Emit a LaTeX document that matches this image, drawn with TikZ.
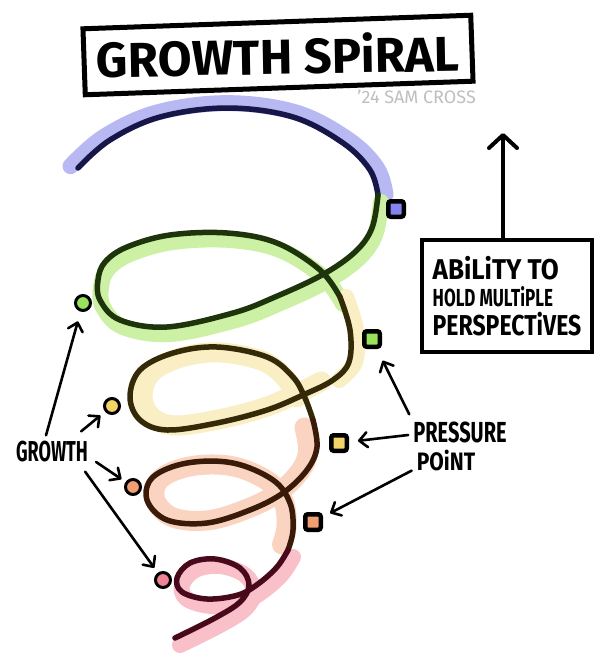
\documentclass[tikz,border=0pt]{standalone}
\usepackage{fontspec}
\setmainfont{Fira Sans}
\usepackage{graphicx}
\usetikzlibrary{arrows.meta}
\definecolor{InkNavy}{RGB}{22,22,72}
\definecolor{InkGreen}{RGB}{30,52,10}
\definecolor{InkOlive}{RGB}{52,42,8}
\definecolor{InkBrown}{RGB}{58,26,8}
\definecolor{InkMaroon}{RGB}{72,10,26}
\definecolor{GlowLavender}{RGB}{184,184,242}
\definecolor{GlowGreen}{RGB}{204,240,164}
\definecolor{GlowYellow}{RGB}{250,238,196}
\definecolor{GlowPeach}{RGB}{250,212,192}
\definecolor{GlowPink}{RGB}{250,192,202}
\definecolor{MarkBlue}{RGB}{132,132,240}
\definecolor{MarkGreen}{RGB}{152,226,92}
\definecolor{MarkYellow}{RGB}{240,212,104}
\definecolor{MarkOrange}{RGB}{240,160,112}
\definecolor{MarkPink}{RGB}{240,132,150}
\newcommand{\navyarc}{plot[smooth,tension=0.6] coordinates {(78,168) (110,140) (160,117) (227,108) (293,117) (343,143) (370,170) (378,195)}}
\newcommand{\greenloop}{plot[smooth,tension=0.6] coordinates {(378,195) (372,228) (355,252) (322,275) (275,297) (233,313) (167,327) (120,320) (100,300) (98,280) (105,262) (127,247) (170,235) (227,233) (277,243) (320,270) (340,297)}}
\newcommand{\yellowside}{plot[smooth,tension=0.6] coordinates {(340,297) (350,330) (349,362) (333,380)}}
\newcommand{\yellowloop}{plot[smooth,tension=0.6] coordinates {(340,297) (350,330) (349,362) (333,380) (303,395) (267,410) (217,423) (167,430) (140,420) (130,397) (140,370) (173,353) (217,347) (267,357) (293,377) (305,398) (313,420)}}
\newcommand{\yellowring}{plot[smooth,tension=0.6] coordinates {(333,380) (303,395) (267,410) (217,423) (167,430) (140,420) (130,397) (140,370) (173,353) (217,347) (267,357) (293,377) (305,398)}}
\newcommand{\orangeloop}{plot[smooth,tension=0.6] coordinates {(313,420) (317,447) (307,470) (283,493) (250,510) (207,523) (167,520) (147,500) (153,477) (187,463) (233,463) (273,480) (290,503) (293,530) (288,550)}}
\newcommand{\redloop}{plot[smooth,tension=0.6] coordinates {(288,550) (277,567) (258,584) (238,595) (207,599) (182,592) (177,578) (190,563) (215,559) (240,568) (249,585) (240,602) (215,618) (175,638)}}
\tikzset{
  hand/.style={inner sep=0pt,text=black},
  titletext/.style={inner sep=0pt,rotate=1,font=\fontsize{49}{52}\selectfont\bfseries},
  titleframe/.style={draw,line width=5pt},
  abilitybox/.style={draw,line width=4pt,minimum width=170pt,minimum height=112pt,align=left,inner sep=0pt,font=\bfseries},
  ptsq/.style={draw,line width=4.5pt,rounded corners=2.5pt,minimum size=15.5pt,inner sep=0pt},
  gdot/.style={circle,draw,line width=3pt,minimum size=15pt,inner sep=0pt},
  arr/.style={line width=2.6pt,line cap=round,-{Straight Barb[length=8pt,width=15pt,round]}},
  bigarr/.style={line width=4pt,line cap=round,-{Straight Barb[length=13pt,width=28pt,round]}},
  glow/.style={line width=16pt,line cap=round,line join=round},
  ink/.style={line width=5.5pt,line cap=round,line join=round},
}
\begin{document}
\begin{tikzpicture}[x=1pt,y=-1pt]
  \path[fill=white] (0,0) rectangle (603,664);
  \useasboundingbox (0,0) rectangle (603,664);

  \draw[glow,GlowLavender,scale around={1.05:(228,205)}] \navyarc;
  \draw[glow,GlowGreen,shift={(3,7)}] \greenloop;
  \draw[glow,GlowYellow,shift={(6,0)}] \yellowside;
  \draw[glow,GlowYellow,line width=20pt,scale around={0.88:(235,392)}] \yellowring;
  \draw[glow,GlowPeach,line width=20pt,scale around={0.9:(228,495)}] \orangeloop;
  \draw[glow,GlowPink,shift={(5,7)}] \redloop;

  \draw[ink,InkNavy] \navyarc;
  \draw[ink,InkGreen] \greenloop;
  \draw[ink,InkOlive] \yellowloop;
  \draw[ink,InkBrown] \orangeloop;
  \draw[ink,InkMaroon] \redloop;

  \node[titletext] (title) at (278,55) {GROWTH SPiRAL};
  \draw[titleframe,shift={(title.center)},rotate=2] (-194,-33) rectangle (194,33);
  \node[hand,text=black!25,font=\fontsize{18}{20}\selectfont,anchor=east] (credit) at (476,97) {'24 SAM CROSS};

  \node[ptsq,fill=MarkBlue] (pq1) at (396,209) {};
  \node[ptsq,fill=MarkGreen] (pq2) at (372,339) {};
  \node[ptsq,fill=MarkYellow] (pq3) at (339,443) {};
  \node[ptsq,fill=MarkOrange] (pq4) at (313,522) {};
  \node[gdot,fill=MarkGreen] (gc1) at (83,303) {};
  \node[gdot,fill=MarkYellow] (gc2) at (112,406) {};
  \node[gdot,fill=MarkOrange] (gc3) at (133,487) {};
  \node[gdot,fill=MarkPink] (gc4) at (163,580) {};

  \node[hand,font=\fontsize{18}{20}\selectfont\bfseries] (growth) at (52,452) {\scalebox{1}[1.6]{GROWTH}};
  \node[hand,font=\fontsize{20}{22}\selectfont\bfseries] (press) at (460,432) {\scalebox{1}[1.45]{PRESSURE}};
  \node[hand,font=\fontsize{21}{22}\selectfont\bfseries] (point) at (446,460) {\scalebox{1}[1.2]{POiNT}};

  \node[abilitybox] (ability) at (507,296) {%
    {\fontsize{26}{30}\selectfont\scalebox{1}[1.1]{ABiLiTY TO}}\\[6pt]
    {\fontsize{17}{20}\selectfont\scalebox{1}[1.45]{HOLD MULTiPLE}}\\[4pt]
    {\fontsize{23}{26}\selectfont\scalebox{1}[1.25]{PERSPECTiVES}}};
  \coordinate (up) at (503,133);
  \draw[bigarr] ([xshift=-4pt]ability.north) -- (up);

  \draw[arr,shorten >=10pt] ([xshift=-6pt,yshift=6pt]growth.north) -- (gc1);
  \draw[arr,shorten >=6pt] ([xshift=-7pt,yshift=10pt]growth.north east) -- (gc2);
  \draw[arr,shorten >=5pt] ([xshift=8pt,yshift=-10pt]growth.east) -- (gc3);
  \draw[arr,shorten >=6pt] ([xshift=-3pt,yshift=-9pt]growth.south east) -- (gc4);

  \draw[arr,shorten >=13pt] ([xshift=-4pt,yshift=7pt]press.north west) -- (pq2);
  \draw[arr,shorten >=9pt] ([xshift=-5pt,yshift=-3pt]press.west) -- (pq3);
  \draw[arr,shorten >=8pt] ([xshift=-5pt]point.south west) -- (pq4);
\end{tikzpicture}
\end{document}
